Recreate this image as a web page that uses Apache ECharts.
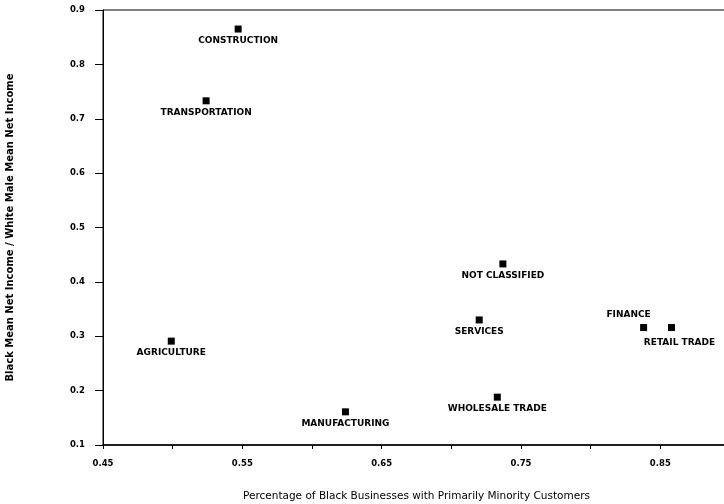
<!DOCTYPE html>
<html>
<head>
<meta charset="utf-8">
<script src="https://cdn.jsdelivr.net/npm/echarts@6/dist/echarts.min.js"></script>
<style>
  html, body { margin: 0; padding: 0; background: #fff; }
  #chart { width: 724px; height: 504px; }
</style>
</head>
<body>
<div id="chart"></div>
<script>
// Industry sectors and their measured ratios
const industries = ['CONSTRUCTION', 'TRANSPORTATION', 'AGRICULTURE', 'MANUFACTURING',
  'NOT CLASSIFIED', 'SERVICES', 'WHOLESALE TRADE', 'FINANCE', 'RETAIL TRADE'];
// Share of black-owned businesses with primarily minority customers
const minorityShare = [0.547, 0.524, 0.499, 0.624, 0.737, 0.720, 0.733, 0.838, 0.858];
// Black mean net income relative to white male mean net income
const incomeRatio = [0.865, 0.733, 0.291, 0.161, 0.433, 0.330, 0.188, 0.316, 0.316];

const xTitle = 'Percentage of Black Businesses with Primarily Minority Customers';
const yTitle = 'Black Mean Net Income / White Male Mean Net Income';

const labelFont = { fontFamily: 'DejaVu Sans', fontSize: 9, fontWeight: 'bold', color: '#000' };

// Most names sit centred under their marker; two crowded ones are nudged aside
function labelFor(name) {
  if (name === 'FINANCE') return { position: 'top', offset: [-15, 0], distance: 5 };
  if (name === 'RETAIL TRADE') return { position: 'bottom', offset: [8, 3], distance: 4 };
  return { position: 'bottom', distance: 4 };
}

const points = industries.map((name, i) => ({
  name: name,
  value: [minorityShare[i], incomeRatio[i]],
  label: labelFor(name)
}));

const chart = echarts.init(document.getElementById('chart'), null, { renderer: 'canvas' });
chart.setOption({
  backgroundColor: '#fff',
  animation: false,
  grid: {
    left: 103, top: 10, right: -6, bottom: 59,
    containLabel: false, outerBoundsMode: 'none',
    show: true, borderColor: '#000', borderWidth: 1, backgroundColor: 'transparent'
  },
  xAxis: {
    type: 'value', min: 0.45, max: 0.9, interval: 0.05,
    name: xTitle, nameLocation: 'middle', nameGap: 46,
    nameTextStyle: { fontFamily: 'DejaVu Sans', fontSize: 10.5, color: '#000' },
    axisLine: { lineStyle: { color: '#000', width: 1.5 } },
    axisTick: { show: true, length: 4, lineStyle: { color: '#000' } },
    splitLine: { show: false },
    axisLabel: {
      margin: 14, fontFamily: 'DejaVu Sans', fontSize: 8.5, fontWeight: 'bold', color: '#000',
      showMaxLabel: false,
      formatter: v => (Math.round(v * 100) % 10 === 5 ? v.toFixed(2) : '')
    }
  },
  yAxis: {
    type: 'value', min: 0.1, max: 0.9, interval: 0.1,
    name: yTitle, nameLocation: 'middle', nameGap: 88, nameRotate: 90,
    nameTextStyle: { fontFamily: 'DejaVu Sans', fontSize: 10, fontWeight: 'bold', color: '#000' },
    axisLine: { lineStyle: { color: '#000', width: 1 } },
    axisTick: { show: true, length: 8, lineStyle: { color: '#000' } },
    splitLine: { show: false },
    axisLabel: {
      margin: 18, fontFamily: 'DejaVu Sans', fontSize: 8.5, fontWeight: 'bold', color: '#000',
      formatter: v => v.toFixed(1)
    }
  },
  series: [{
    type: 'scatter',
    symbol: 'rect',
    symbolSize: 7,
    itemStyle: { color: '#000', opacity: 1 },
    label: Object.assign({ show: true, formatter: p => p.name }, labelFont),
    data: points
  }]
});
</script>
</body>
</html>
